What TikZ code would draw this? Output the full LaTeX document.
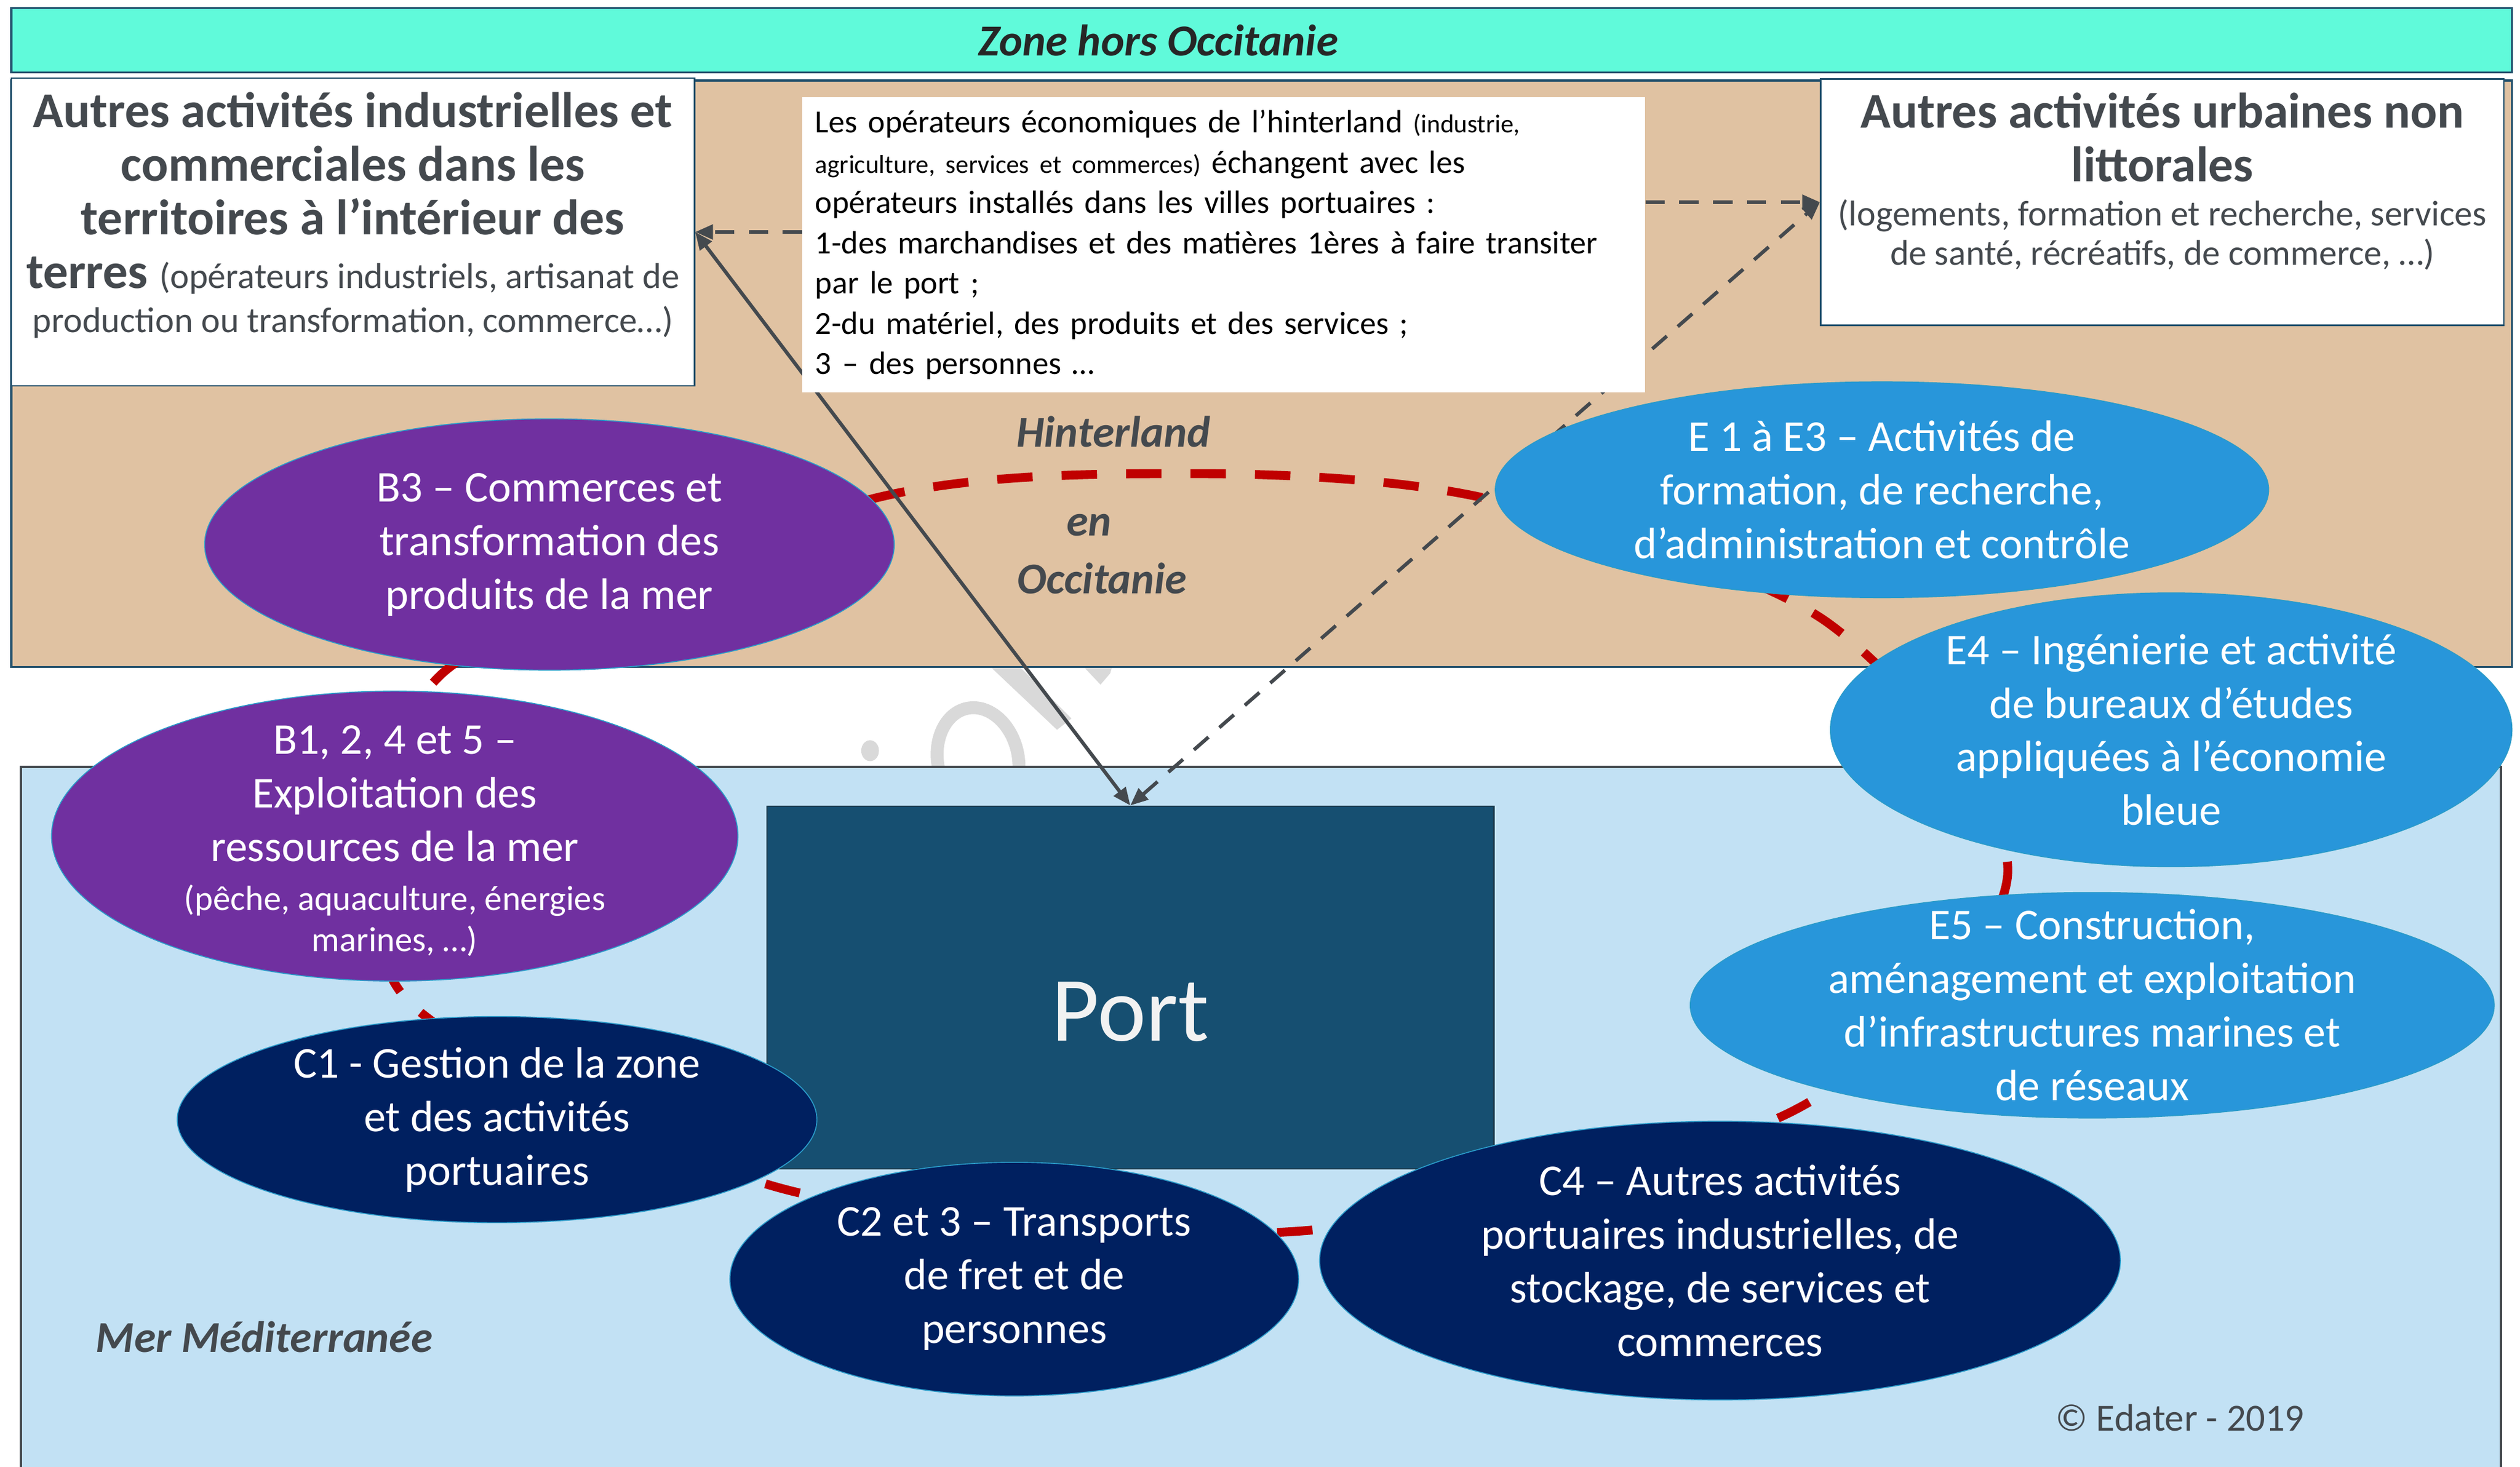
\documentclass[tikz,border=0pt]{standalone}
\usepackage{fontspec}
\setmainfont{Carlito}
\usetikzlibrary{shapes.geometric,arrows.meta,positioning}

\definecolor{zonehors}{HTML}{60FADA}
\definecolor{terre}{HTML}{E0C2A2}
\definecolor{mer}{HTML}{C2E1F4}
\definecolor{portbleu}{HTML}{164F71}
\definecolor{violet}{HTML}{7030A0}
\definecolor{marine}{HTML}{002060}
\definecolor{azur}{HTML}{2896DA}
\definecolor{rouge}{HTML}{C00000}
\definecolor{gristexte}{HTML}{44494E}
\definecolor{bord}{HTML}{1F4E6A}
\definecolor{filigrane}{HTML}{D9D9D9}

\pgfdeclarelayer{fond}
\pgfdeclarelayer{liens}
\pgfsetlayers{fond,liens,main}

\tikzset{
  bulle/.style={ellipse, draw=cyan!60!teal, line width=0.6pt, inner sep=0pt},
  bulleB/.style={bulle, fill=violet},
  bulleC/.style={bulle, fill=marine},
  bulleE/.style={bulle, fill=azur},
  txtbulle/.style={text=white, align=center, inner sep=0pt,
    font=\fontsize{27.3}{33.3}\selectfont},
  boite/.style={rectangle, draw=bord, line width=1pt, fill=white, inner sep=0pt},
  titreboite/.style={text=gristexte, align=center, inner sep=0pt,
    font=\bfseries\fontsize{31}{33.3}\selectfont},
  zonetxt/.style={text=gristexte, inner sep=0pt,
    font=\bfseries\itshape\fontsize{27.3}{33.3}\selectfont},
  lien/.style={draw=gristexte, line width=2.2pt},
  pointille/.style={dash pattern=on 12pt off 9pt},
  pointe/.tip={Triangle[length=11pt,width=9pt]},
  boucle/.style={draw=rouge, line width=5.5pt, dash pattern=on 22pt off 18pt}
}

\begin{document}
\begin{tikzpicture}[x=1pt,y=-1pt]
\useasboundingbox (0,0) rectangle (1564,910.3);

% fonds
\begin{pgfonlayer}{fond}
  \fill[filigrane] (540,466) ellipse [x radius=5.5pt, y radius=6.5pt];
  \draw[filigrane, line width=8pt, rotate around={12:(607,472)}] (607,472) ellipse [x radius=25pt, y radius=33pt];
  \fill[filigrane] (600,400) -- (619,400) -- (665,446) -- (656,453) -- cycle;
  \fill[filigrane] (667,408) -- (692,408) -- (689,418) -- (683,425) -- cycle;
  \draw[fill=zonehors, draw=bord, line width=1.2pt] (7,5) rectangle (1559,45);
  \draw[fill=terre, draw=bord, line width=1.2pt] (7,50) rectangle (1559,414);
  \draw[fill=mer, draw=gristexte, line width=1.5pt] (13,476) rectangle (1552,920);
\end{pgfonlayer}

\node[text=black!85, inner sep=0pt, font=\bfseries\itshape\fontsize{27.5}{31}\selectfont] (hors) at (719,25) {Zone hors Occitanie};

% port
\node[rectangle, draw=bord!70!black, line width=1pt, fill=portbleu, minimum width=451, minimum height=225] (port) at (701.5,613) {};
\node[text=white!95!black, inner sep=0pt, font=\fontsize{57}{68}\selectfont] (porttxt) at ([yshift=-15pt]port.center) {Port};

% boites du haut
\node[boite, minimum width=424, minimum height=191] (indus) at (219,144) {};
\node[titreboite, anchor=north] (industxt) at ([yshift=-9pt]indus.north) {Autres activités industrielles et\\commerciales dans les\\territoires à l’intérieur des\\terres {\mdseries\fontsize{22.3}{25}\selectfont (opérateurs industriels, artisanat de}\\[-6pt]{\mdseries\fontsize{22.3}{25}\selectfont production ou transformation, commerce…)}};

\node[boite, minimum width=424, minimum height=153] (urbain) at (1342,125.5) {};
\node[titreboite, anchor=north] (urbaintxt) at ([yshift=-9pt]urbain.north) {Autres activités urbaines non\\littorales\\[-6pt]{\mdseries\fontsize{22.2}{25}\selectfont (logements, formation et recherche, services}\\[-9pt]{\mdseries\fontsize{22.2}{25}\selectfont de santé, récréatifs, de commerce, …)}};

\node[rectangle, fill=white, inner sep=8pt, text width=507, minimum height=182, align=left, font=\fontsize{20}{25}\selectfont] (echange) at (759.5,152) {Les opérateurs économiques de l’hinterland {\fontsize{16}{25}\selectfont (industrie,\\agriculture, services et commerces)} échangent avec les\\opérateurs installés dans les villes portuaires :\\1-des marchandises et des matières 1ères à faire transiter\\par le port ;\\2-du matériel, des produits et des services ;\\3 – des personnes …};

% textes des zones
\node[zonetxt] (hinter) at (691,268) {Hinterland};
\node[zonetxt] (en) at (676,326) {en};
\node[zonetxt] (occ) at (684,359) {Occitanie};
\node[zonetxt] (mediter) at (164,830) {Mer Méditerranée};
\node[text=gristexte, inner sep=0pt, font=\fontsize{23.8}{28}\selectfont] (copy) at (1353,880) {© Edater - 2019};

% activites
\node[bulleB, minimum width=428, minimum height=156] (b3) at (341,338) {};
\node[bulleB, minimum width=426, minimum height=180] (b1) at (245,519) {};
\node[bulleC, minimum width=397, minimum height=128] (c1) at (308.5,695) {};
\node[bulleC, minimum width=353, minimum height=145] (c2) at (629.5,794) {};
\node[bulleC, minimum width=497, minimum height=173] (c4) at (1067.5,782.5) {};
\node[bulleE, minimum width=499, minimum height=140] (e5) at (1298.5,624) {};
\node[bulleE, minimum width=423, minimum height=170] (e4) at (1347.5,453) {};
\node[bulleE, minimum width=480, minimum height=134] (e1) at (1168,304) {};

\node[txtbulle] at (b3) {B3 – Commerces et\\transformation des\\produits de la mer};
\node[txtbulle] at ([yshift=-3pt]b1.center) {B1, 2, 4 et 5 –\\Exploitation des\\ressources de la mer\\[-3pt]{\fontsize{21.7}{25}\selectfont (pêche, aquaculture, énergies}\\[-8pt]{\fontsize{21.7}{25}\selectfont marines, …)}};
\node[txtbulle] at (c1) {C1 - Gestion de la zone\\et des activités\\portuaires};
\node[txtbulle] at (c2) {C2 et 3 – Transports\\de fret et de\\personnes};
\node[txtbulle] at (c4) {C4 – Autres activités\\portuaires industrielles, de\\stockage, de services et\\commerces};
\node[txtbulle] at (e5) {E5 – Construction,\\aménagement et exploitation\\d’infrastructures marines et\\de réseaux};
\node[txtbulle] at (e4) {E4 – Ingénierie et activité\\de bureaux d’études\\appliquées à l’économie\\bleue};
\node[txtbulle] at (e1) {E 1 à E3 – Activités de\\formation, de recherche,\\d’administration et contrôle};

% liens
\begin{pgfonlayer}{liens}
  \draw[boucle] plot[smooth cycle] coordinates {(282,412) (540,310) (740,294) (925,310) (1135,387) (1246,543) (1112,690) (809,764) (490,739) (257,625) (245,520)};
  \draw[lien, pointe-pointe] (port.north) -- (indus.east);
  \draw[lien, pointille, pointe-pointe] (port.north) -- (urbain.west);
  \draw[lien, pointille, -pointe] (echange.west |- indus.east) -- (indus.east);
  \draw[lien, pointille, -pointe] (echange.east |- urbain.west) -- (urbain.west);
\end{pgfonlayer}

\end{tikzpicture}
\end{document}
